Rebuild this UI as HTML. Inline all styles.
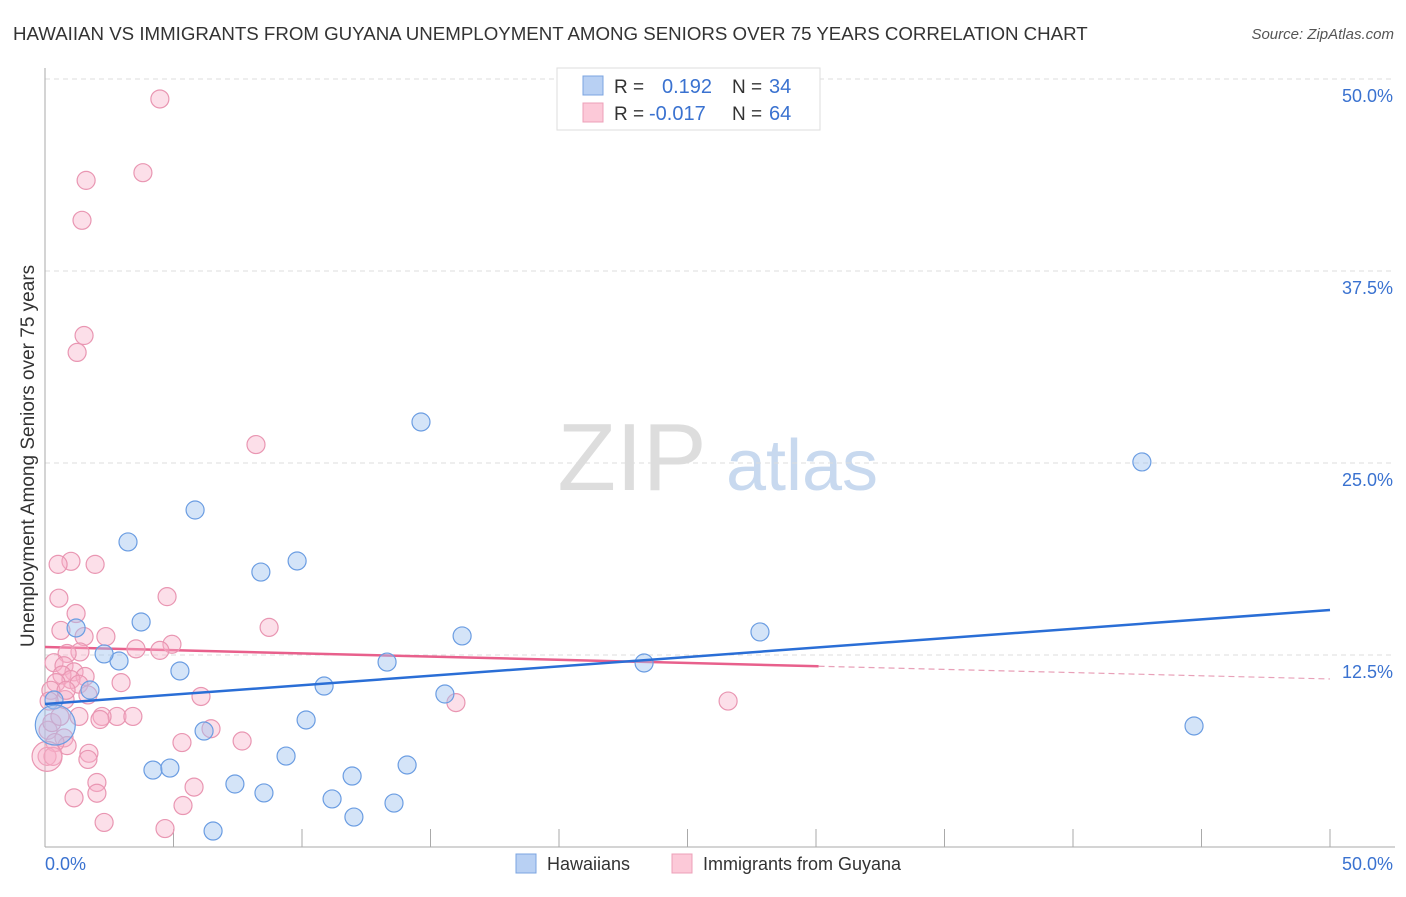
<!DOCTYPE html>
<html><head><meta charset="utf-8"><style>
body{margin:0;background:#fff;font-family:"Liberation Sans",sans-serif}
svg text{font-family:"Liberation Sans",sans-serif}
</style></head><body>
<svg id="chart" width="1406" height="892" xmlns="http://www.w3.org/2000/svg">
<text x="13" y="40" font-size="18.7" fill="#333">HAWAIIAN VS IMMIGRANTS FROM GUYANA UNEMPLOYMENT AMONG SENIORS OVER 75 YEARS CORRELATION CHART</text>
<text x="1394" y="39" font-size="15" fill="#555" text-anchor="end" font-style="italic">Source: ZipAtlas.com</text>
<g>
<text x="632" y="490" font-size="96" fill="#ddd" text-anchor="middle" font-family="Liberation Serif,serif">ZIP</text>
<text x="802" y="490" font-size="72" fill="#c8d9ef" text-anchor="middle">atlas</text>
</g>
<g id="grid"></g><g id="axes"></g><g id="trend"></g><g id="pts"></g>
<text transform="translate(34,456) rotate(-90)" font-size="19" fill="#333" text-anchor="middle">Unemployment Among Seniors over 75 years</text>
<g>
<rect x="557" y="68" width="263" height="62" fill="#fff" stroke="#ddd"/>
<rect x="583" y="76" width="20" height="19" fill="#b8d0f3" stroke="#7ba4e0"/>
<rect x="583" y="103" width="20" height="19" fill="#fcc9d8" stroke="#eda0b8"/>
<text x="614" y="93" font-size="19" fill="#333">R =</text><text x="662" y="93" font-size="20" fill="#3a72d0">0.192</text>
<text x="732" y="93" font-size="19" fill="#333">N =</text><text x="769" y="93" font-size="20" fill="#3a72d0">34</text>
<text x="614" y="120" font-size="19" fill="#333">R =</text><text x="649" y="120" font-size="20" fill="#3a72d0">-0.017</text>
<text x="732" y="120" font-size="19" fill="#333">N =</text><text x="769" y="120" font-size="20" fill="#3a72d0">64</text>
</g>
<g>
<rect x="516" y="854" width="20" height="19" fill="#b8d0f3" stroke="#7ba4e0"/>
<text x="547" y="870" font-size="18" fill="#333">Hawaiians</text>
<rect x="672" y="854" width="20" height="19" fill="#fcc9d8" stroke="#eda0b8"/>
<text x="703" y="870" font-size="18" fill="#333">Immigrants from Guyana</text>
</g>
</svg>
<script>
const yTicks=[12.5,25,37.5,50];
const yTickLabels=["12.5%","25.0%","37.5%","50.0%"];
const xTicks=[0,5,10,15,20,25,30,35,40,45,50];
const xEndLabels=["0.0%","50.0%"];
const blueX=[14.63,42.68,5.84,3.23,9.81,8.40,3.74,1.21,16.23,27.82,2.88,2.30,13.31,23.31,5.25,1.75,10.86,15.56,0.35,10.16,6.19,44.71,0.4,9.38,14.09,4.20,4.86,11.95,7.39,8.52,11.17,13.58,12.02,6.54];
const blueY=[27.67,25.07,21.94,19.86,18.62,17.90,14.65,14.26,13.74,14.00,12.11,12.57,12.04,11.98,11.46,10.22,10.48,9.96,9.57,8.27,7.55,7.88,7.94,5.92,5.34,5.01,5.14,4.62,4.10,3.52,3.13,2.86,1.95,1.04];
const blueR=[9,9,9,9,9,9,9,9,9,9,9,9,9,9,9,9,9,9,9,9,9,9,20,9,9,9,9,9,9,9,9,9,9,9];
const pinkX=[4.47,3.81,1.60,1.44,1.52,1.25,8.21,1.01,1.95,0.51,4.75,0.54,1.21,8.72,0.62,2.37,1.52,4.94,3.54,1.36,0.86,0.35,0.74,1.13,0.66,1.56,1.01,0.43,1.32,0.23,2.96,6.07,1.67,0.78,15.99,26.58,0.16,2.80,1.32,2.22,3.42,0.12,6.46,0.74,0.86,0.39,5.33,7.67,1.71,1.67,0.08,2.02,2.02,5.80,1.13,5.37,2.30,4.67,0.27,0.58,0.31,2.14,4.47,0.82];
const pinkY=[48.7,43.9,43.4,40.8,33.3,32.2,26.2,18.6,18.4,18.4,16.3,16.2,15.2,14.3,14.1,13.7,13.7,13.2,12.9,12.7,12.6,12.0,11.8,11.4,11.2,11.1,10.9,10.7,10.6,10.2,10.7,9.8,9.9,9.6,9.4,9.5,9.5,8.5,8.5,8.5,8.5,7.6,7.7,7.1,6.6,6.8,6.8,6.9,6.1,5.7,5.9,4.2,3.5,3.9,3.2,2.7,1.6,1.2,8.1,8.5,5.9,8.3,12.8,10.2];
const blueTrend=[9.31,15.43];
const pinkTrend=[13.02,10.94];
const pinkSolidEnd=30.1;
const NS="http://www.w3.org/2000/svg";
const sx=v=>45+v*25.7, sy=v=>847-v*15.36;
function mk(p,t,a){const e=document.createElementNS(NS,t);for(const k in a)e.setAttribute(k,a[k]);p.appendChild(e);return e;}
const grid=document.getElementById('grid'),axes=document.getElementById('axes'),trend=document.getElementById('trend'),pts=document.getElementById('pts');
yTicks.forEach((v,i)=>{
 const l=mk(grid,'line',{x1:45,x2:1395,y1:sy(v),y2:sy(v),stroke:'#ddd','stroke-dasharray':'5,4'});
 
 
 const t=mk(grid,'text',{x:1393,y:sy(v)+23,'font-size':18,fill:'#3a72d0','text-anchor':'end'});t.textContent=yTickLabels[i];
 
 
});
const ax=mk(axes,'line',{x1:45,x2:45,y1:68,y2:847,stroke:'#aaa'});


const bx=mk(axes,'line',{x1:45,x2:1395,y1:847,y2:847,stroke:'#aaa'});


xTicks.forEach(v=>{const t=mk(axes,'line',{x1:sx(v),x2:sx(v),y1:829,y2:847,stroke:'#aaa'});
 
 });
const l0=mk(axes,'text',{x:45,y:870,'font-size':18,fill:'#3a72d0'});l0.textContent=xEndLabels[0];


const l1=mk(axes,'text',{x:1393,y:870,'font-size':18,fill:'#3a72d0','text-anchor':'end'});l1.textContent=xEndLabels[1];


function addPts(X,Y,R,fill,stroke,name){X.forEach((x,i)=>{const c=mk(pts,'circle',{cx:sx(x),cy:sy(Y[i]),r:R?R[i]:9,fill:fill,stroke:stroke,'stroke-width':1.2});
 
 });}
addPts(pinkX,pinkY,null,'rgba(248,175,200,0.4)','#e996b2','guyana-point');
const bigPink=mk(pts,'circle',{cx:sx(0.08),cy:sy(5.9),r:15,fill:'rgba(248,175,200,0.4)',stroke:'#e996b2','stroke-width':1.2});


addPts(blueX,blueY,blueR,'rgba(160,195,240,0.45)','#6b9de2','hawaiian-point');
const pw=pinkTrend[0]+(pinkTrend[1]-pinkTrend[0])*pinkSolidEnd/50;
const pl=mk(trend,'line',{x1:sx(0),y1:sy(pinkTrend[0]),x2:sx(pinkSolidEnd),y2:sy(pw),stroke:'#e8608c','stroke-width':2.5});


const pd=mk(trend,'line',{x1:sx(pinkSolidEnd),y1:sy(pw),x2:sx(50),y2:sy(pinkTrend[1]),stroke:'#e8a0b8','stroke-width':1.2,'stroke-dasharray':'6,4'});


const bl=mk(pts,'line',{x1:sx(0),y1:sy(blueTrend[0]),x2:sx(50),y2:sy(blueTrend[1]),stroke:'#2a6ed6','stroke-width':2.5});


</script>
</body></html>
